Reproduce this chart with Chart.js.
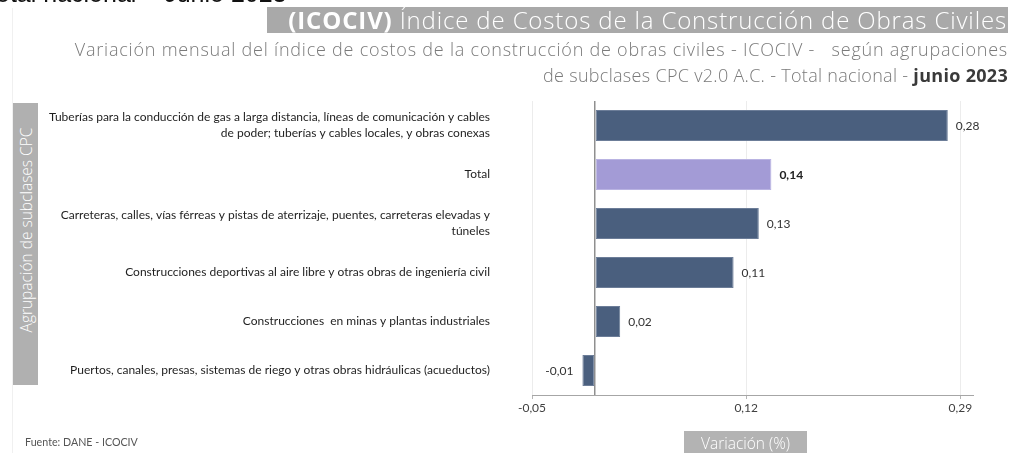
<!DOCTYPE html>
<html>
<head>
<meta charset="utf-8">
<script src="https://cdn.jsdelivr.net/npm/chart.js@4.4.1/dist/chart.umd.min.js"></script>
<style>
  html, body { margin:0; padding:0; background:#fff; }
  #wrap { position:relative; width:1012px; height:453px; overflow:hidden; background:#fff; }
  #c { position:absolute; left:0; top:0; }
  .ov { position:absolute; white-space:nowrap; }
  #cut { left:-4px; top:-19px; font-family:"Liberation Sans", Arial, sans-serif; font-size:25px; line-height:25px; color:#111; }
  #frame { left:12px; top:8px; width:1px; height:445px; background:#f0f0f0; }
  #titleBox { left:267px; top:7px; width:741px; height:26px; background:#a9a9a9; }
  #title { right:5px; top:5px; font-family:"Open Sans", sans-serif; font-weight:300; font-size:24px; letter-spacing:0.85px; line-height:30px; color:#fff; }
  #title b { font-weight:700; }
  #sub1 { right:4px; top:37px; font-family:"Open Sans", sans-serif; font-weight:300; font-size:18px; letter-spacing:0.78px; line-height:24px; color:#7a7a7a; }
  #sub2 { right:4px; top:63px; font-family:"Open Sans", sans-serif; font-weight:300; font-size:18px; letter-spacing:0.3px; line-height:24px; color:#7a7a7a; }
  #sub2 b { color:#3a3a3a; font-weight:700; }
  #yBox { left:13px; top:103px; width:25px; height:282px; background:#b0b0b0; }
  #yTitle { left:13px; top:121px; width:25px; height:218px; }
  #yTitle span { position:absolute; left:50%; top:50%; transform:translate(-50%,-50%) rotate(-90deg); font-family:"Open Sans", sans-serif; font-weight:300; font-size:15.5px; color:#fff; white-space:nowrap; }
  #xBox { left:684px; top:431px; width:123px; height:26px; background:#b3b3b3; }
  #xTitle { left:684px; top:430px; width:123px; text-align:center; font-family:"Open Sans", sans-serif; font-weight:300; font-size:15.5px; line-height:26px; color:#fff; }
  #src { left:25px; top:435px; font-family:Lato, sans-serif; font-size:10.7px; color:#555; }
</style>
</head>
<body>
<div id="wrap">
  <canvas id="c" width="1012" height="453"></canvas>
  <div class="ov" id="cut">otal nacional – Junio 2023</div>
  <div class="ov" id="frame"></div>
  <div class="ov" id="titleBox"></div>
  <div class="ov" id="title"><b>(ICOCIV)</b> Índice de Costos de la Construcción de Obras Civiles</div>
  <div class="ov" id="sub1">Variación mensual del índice de costos de la construcción de obras civiles - ICOCIV - &nbsp;&nbsp;según agrupaciones</div>
  <div class="ov" id="sub2">de subclases CPC v2.0 A.C. - Total nacional - <b>junio 2023</b></div>
  <div class="ov" id="yBox"></div>
  <div class="ov" id="yTitle"><span>Agrupación de subclases CPC</span></div>
  <div class="ov" id="xBox"></div>
  <div class="ov" id="xTitle">Variación (%)</div>
  <div class="ov" id="src">Fuente: DANE - ICOCIV</div>
</div>
<script>
const categories = [
  ["Tuberías para la conducción de gas a larga distancia, líneas de comunicación y cables", "de poder; tuberías y cables locales, y obras conexas"],
  "Total",
  ["Carreteras, calles, vías férreas y pistas de aterrizaje, puentes, carreteras elevadas y", "túneles"],
  "Construcciones deportivas al aire libre y otras obras de ingeniería civil",
  "Construcciones  en minas y plantas industriales",
  "Puertos, canales, presas, sistemas de riego y otras obras hidráulicas (acueductos)"
];
const variacion = [0.28, 0.14, 0.13, 0.11, 0.02, -0.01];
const highlighted = [false, true, false, false, false, false];
const xTickValues = [-0.05, 0.12, 0.29];
const xMin = -0.05, xMax = 0.30;

const fmt = v => v.toFixed(2).replace('.', ',');

const labelPlugin = {
  id: 'valueLabels',
  afterDatasetsDraw(chart) {
    const ctx = chart.ctx;
    const meta = chart.getDatasetMeta(0);
    ctx.save();
    ctx.textBaseline = 'middle';
    meta.data.forEach((bar, i) => {
      const v = variacion[i];
      ctx.font = (highlighted[i] ? 'bold ' : '') + '12px Lato, sans-serif';
      ctx.fillStyle = highlighted[i] ? '#222' : '#333';
      if (v >= 0) { ctx.textAlign = 'left'; ctx.fillText(fmt(v), bar.x + 8, bar.y + 1); }
      else { ctx.textAlign = 'right'; ctx.fillText(fmt(v), bar.x - 9, bar.y + 1); }
    });
    ctx.restore();
  }
};

new Chart(document.getElementById('c'), {
  type: 'bar',
  data: {
    labels: categories,
    datasets: [{
      data: variacion,
      backgroundColor: highlighted.map(h => h ? '#a39bd6' : '#4a5f7e'),
      borderColor: highlighted.map(h => h ? '#b9b3e2' : '#6c7d98'),
      borderWidth: 1,
      borderSkipped: false,
      barPercentage: 0.63,
      categoryPercentage: 1
    }]
  },
  options: {
    indexAxis: 'y',
    responsive: false,
    animation: false,
    layout: { padding: { top: 101, right: 39, bottom: 0, left: 0 } },
    plugins: { legend: { display: false }, tooltip: { enabled: false } },
    scales: {
      x: {
        type: 'linear',
        min: xMin, max: xMax,
        afterBuildTicks: s => { s.ticks = [...xTickValues, 0].sort((a,b)=>a-b).map(v => ({ value: v })); },
        afterFit: s => { s.height = 54; },
        ticks: {
          callback: v => (v === 0 ? '' : fmt(v)),
          color: '#404040',
          font: { family: 'Lato, sans-serif', size: 12 },
          padding: 2,
          maxRotation: 0,
          autoSkip: false
        },
        grid: {
          color: c => (c.tick && c.tick.value === 0 ? '#8f8f8f' : '#ececec'),
          lineWidth: c => (c.tick && c.tick.value === 0 ? 1.5 : 1),
          tickColor: c => (c.tick && c.tick.value === 0 ? 'rgba(0,0,0,0)' : '#b5b5b5'),
          tickLength: 4,
          drawTicks: true
        },
        border: { display: true, color: '#a6a6a6', width: 1 }
      },
      y: {
        type: 'category',
        afterFit: s => { s.width = 532; },
        ticks: {
          color: '#1e1e1e',
          font: { family: 'Lato, sans-serif', size: 12, lineHeight: 1.33 },
          padding: 42,
          autoSkip: false
        },
        grid: { display: false, drawTicks: false },
        border: { display: false }
      }
    }
  },
  plugins: [labelPlugin]
});
</script>
</body>
</html>
